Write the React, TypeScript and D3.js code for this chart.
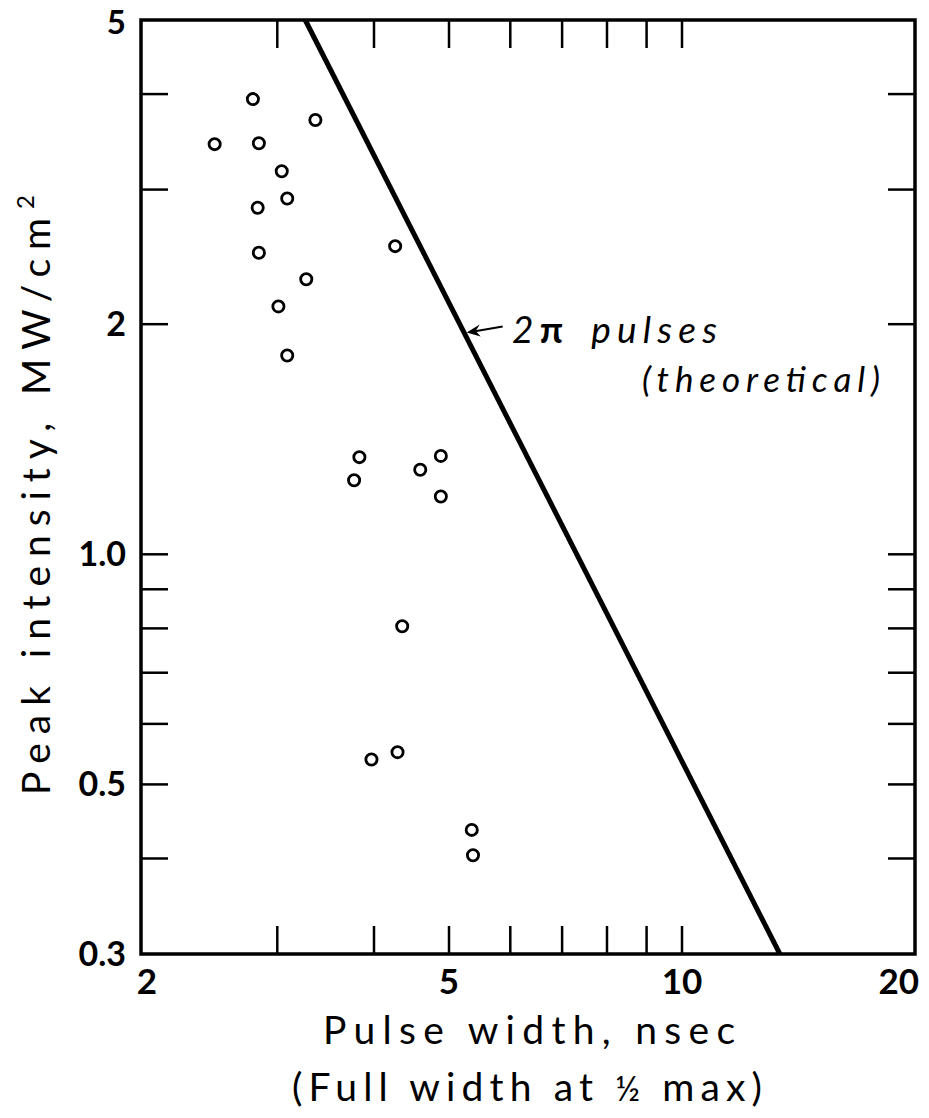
import React from "react";
import * as d3 from "d3";

const pulseWidth = [2.79, 3.36, 2.49, 2.84, 3.04, 3.09, 2.83, 2.84, 3.27, 3.01, 3.09, 4.26, 3.83, 3.77, 4.88, 4.59, 4.88, 4.35, 4.29, 3.97, 5.35, 5.37];
const peakIntensity = [3.94, 3.70, 3.44, 3.45, 3.17, 2.92, 2.84, 2.48, 2.29, 2.11, 1.82, 2.53, 1.34, 1.25, 1.345, 1.29, 1.19, 0.805, 0.551, 0.539, 0.436, 0.404];

const theoryX = [3.26, 13.38];
const theoryY = [5, 0.3];

const xTickValues = [3, 4, 5, 6, 7, 8, 9, 10];
const xTickLabels = [2, 5, 10, 20];
const yTickValues = [0.4, 0.5, 0.6, 0.7, 0.8, 0.9, 1.0, 2, 3, 4];
const yTickLabels = ["5", "2", "1.0", "0.5", "0.3"];
const yTickLabelValues = [5, 2, 1.0, 0.5, 0.3];

const arrowTip = { x: 5.27, y: 1.95 };

const FONT = "Lato, 'Noto Sans', sans-serif";

export default function App() {
  const W = 929, H = 1118;
  const left = 141, right = 915, top = 20, bottom = 954;
  const x = d3.scaleLog().domain([2, 20]).range([left, right]);
  const y = d3.scaleLog().domain([0.3, 5]).range([bottom, top]);
  const line = d3.line<number>().x((_, i) => x(theoryX[i])).y((_, i) => y(theoryY[i]));

  const tx = x(arrowTip.x), ty = y(arrowTip.y);
  const ax0 = tx + 36, ay0 = ty - 6;

  return (
    <svg width={W} height={H} style={{ position: "absolute", left: 0, top: 0, background: "#fff" }}>
      <rect x={0} y={0} width={W} height={H} fill="#fff" />
      {/* ticks */}
      {xTickValues.map((v) => (
        <g key={"xt" + v} stroke="#000" strokeWidth={2.5}>
          <line x1={x(v)} x2={x(v)} y1={bottom} y2={bottom - 28} />
          <line x1={x(v)} x2={x(v)} y1={top} y2={top + 28} />
        </g>
      ))}
      {yTickValues.map((v) => (
        <g key={"yt" + v} stroke="#000" strokeWidth={2.5}>
          <line x1={left} x2={left + 27} y1={y(v)} y2={y(v)} />
          <line x1={right} x2={right - 27} y1={y(v)} y2={y(v)} />
        </g>
      ))}
      {/* frame */}
      <rect x={left} y={top} width={right - left} height={bottom - top} fill="none" stroke="#000" strokeWidth={3.5} />
      {/* theory line */}
      <path d={line(theoryX) || ""} fill="none" stroke="#000" strokeWidth={5} />
      {/* points */}
      {pulseWidth.map((v, i) => (
        <circle key={"p" + i} cx={x(v)} cy={y(peakIntensity[i])} r={5.6} fill="none" stroke="#000" strokeWidth={2.8} />
      ))}
      {/* arrow annotation */}
      <line x1={ax0} y1={ay0} x2={tx + 4} y2={ty - 0.6} stroke="#000" strokeWidth={2} />
      <path d={`M${tx},${ty} L${tx + 13},${ty - 8} L${tx + 9},${ty - 1.5} L${tx + 14},${ty + 4} Z`} fill="#000" />
      <text x={512} y={ty + 10} fontFamily={FONT} fontStyle="italic" fontSize={37} textLength={205} lengthAdjust="spacing">
        <tspan>2</tspan><tspan fontWeight={700} fontStyle="normal">π</tspan><tspan dx={22}>pulses</tspan>
      </text>
      <text x={642} y={ty + 59} fontFamily={FONT} fontStyle="italic" fontSize={35} textLength={238} lengthAdjust="spacing">(theoretical)</text>
      {/* x tick labels */}
      {xTickLabels.map((v, i) => (
        <text key={"xl" + v} x={i === xTickLabels.length - 1 ? 919 : x(v) + (i === 0 ? 6 : 0)} y={994} textAnchor={i === xTickLabels.length - 1 ? "end" : "middle"} fontFamily={FONT} fontWeight={700} fontSize={35}>{v}</text>
      ))}
      {/* y tick labels */}
      {yTickLabelValues.map((v, i) => (
        <text key={"yl" + i} x={126} y={Math.max(y(v) + 12, 34)} textAnchor="end" fontFamily={FONT} fontWeight={700} fontSize={i === 0 ? 33 : 34}>{yTickLabels[i]}</text>
      ))}
      {/* axis titles */}
      <text x={323} y={1044} fontFamily={FONT} fontSize={39} textLength={412} lengthAdjust="spacing">Pulse width, nsec</text>
      <text x={292} y={1101} fontFamily={FONT} fontSize={39} textLength={470} lengthAdjust="spacing">(Full width at <tspan fontSize={34}>½</tspan> max)</text>
      <text transform={`translate(50,795) rotate(-90)`} fontFamily={FONT} fontSize={39} textLength={600} lengthAdjust="spacing">Peak intensity, MW/cm<tspan dy={-16} fontSize={24}>2</tspan></text>
    </svg>
  );
}
